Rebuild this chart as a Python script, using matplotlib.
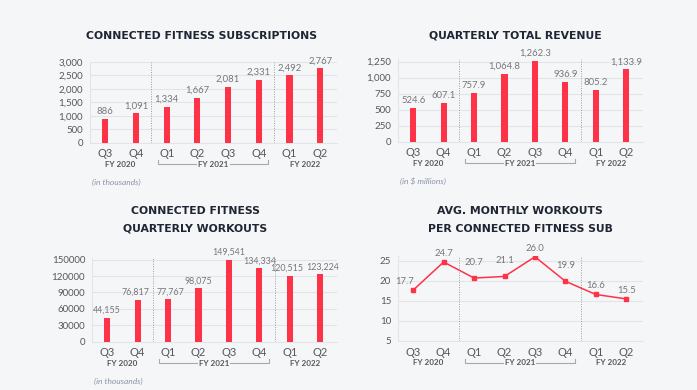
import matplotlib.pyplot as plt
from matplotlib.transforms import blended_transform_factory

plt.rcParams["font.family"] = ["Lato", "DejaVu Sans"]

quarters = ["Q3", "Q4", "Q1", "Q2", "Q3", "Q4", "Q1", "Q2"]

subscriptions = [886, 1091, 1334, 1667, 2081, 2331, 2492, 2767]
sub_labels = ["886", "1,091", "1,334", "1,667", "2,081", "2,331", "2,492", "2,767"]

revenue = [524.6, 607.1, 757.9, 1064.8, 1262.3, 936.9, 805.2, 1133.9]
rev_labels = ["524.6", "607.1", "757.9", "1,064.8", "1,262.3", "936.9", "805.2", "1,133.9"]

workouts = [44155, 76817, 77767, 98075, 149541, 134334, 120515, 123224]
wo_labels = ["44,155", "76,817", "77,767", "98,075", "149,541", "134,334", "120,515", "123,224"]

avg_workouts = [17.7, 24.7, 20.7, 21.1, 26.0, 19.9, 16.6, 15.5]
avg_labels = ["17.7", "24.7", "20.7", "21.1", "26.0", "19.9", "16.6", "15.5"]

BG = "#f5f6f8"
RED = "#ff3347"
GRID = "#e2e4e8"
TXT = "#58565a"
VAL = "#77777b"
TITLE = "#1f2533"

W, H = 697, 390
fig = plt.figure(figsize=(W / 100, H / 100), dpi=100, facecolor=BG)


def add_axes(left, top, right, bottom):
    return fig.add_axes([left / W, 1 - bottom / H, (right - left) / W, (bottom - top) / H])


def style(ax, yticks, yticklabels, ylim):
    ax.set_facecolor(BG)
    ax.set_xlim(-0.5, 7.55)
    ax.set_ylim(*ylim)
    ax.set_yticks(yticks)
    ax.set_yticklabels(yticklabels, fontsize=7, color=TXT)
    ax.set_xticks(range(8))
    ax.set_xticklabels(quarters, fontsize=8, color=TXT)
    ax.tick_params(length=0, pad=4)
    ax.tick_params(axis="y", pad=5)
    for s in ["top", "right"]:
        ax.spines[s].set_visible(False)
    for s in ["left", "bottom"]:
        ax.spines[s].set_color(GRID)
        ax.spines[s].set_linewidth(0.8)
    ax.grid(axis="y", color=GRID, linewidth=0.8)
    ax.set_axisbelow(True)
    for x in (1.5, 5.5):
        ax.axvline(x, color="#9a9ca2", linestyle=(0, (1, 1.5)), linewidth=0.7)

    # fiscal year labels under the quarters
    h_px = ax.get_position().height * H
    yfy = -21.5 / h_px
    tr = blended_transform_factory(ax.transData, ax.transAxes)
    fy_kw = dict(transform=tr, fontsize=5.8, fontweight="bold", color="#55575c",
                 ha="center", va="center", clip_on=False)
    ax.text(0.5, yfy, "FY 2020", **fy_kw)
    ax.text(3.5, yfy, "FY 2021", **fy_kw)
    ax.text(6.5, yfy, "FY 2022", **fy_kw)
    yup = yfy + 4 / h_px
    ln = dict(transform=tr, color="#a7a9ae", linewidth=0.8, clip_on=False)
    ax.plot([1.7, 1.7, 2.95], [yup, yfy, yfy], **ln)
    ax.plot([4.05, 5.3, 5.3], [yfy, yfy, yup], **ln)


def title(x, y, text):
    fig.text(x / W, 1 - y / H, text, fontsize=7.8, fontweight="bold", color=TITLE,
             family="DejaVu Sans", ha="center", va="center", linespacing=1.9)


def note(ax, text):
    h_px = ax.get_position().height * H
    ax.text(0.01, -39.5 / h_px, text, transform=ax.transAxes, fontsize=6,
            style="italic", color="#8a93a6", ha="left", va="center")


def bar_labels(ax, vals, labels, off, size=6.8, shifts=None):
    shifts = shifts or {}
    for i, (v, lab) in enumerate(zip(vals, labels)):
        ax.annotate(lab, (i, v), xytext=(shifts.get(i, 0), off), textcoords="offset points",
                    ha="center", va="bottom", fontsize=size, color=VAL)


# Connected fitness subscriptions
ax1 = add_axes(90, 61.7, 337, 142.7)
ax1.bar(range(8), subscriptions, width=0.2, color=RED, zorder=3)
style(ax1, [0, 500, 1000, 1500, 2000, 2500, 3000],
      ["0", "500", "1,000", "1,500", "2,000", "2,500", "3,000"], (0, 3000))
bar_labels(ax1, subscriptions, sub_labels, 2)
title(201, 36, "CONNECTED FITNESS SUBSCRIPTIONS")
note(ax1, "(in thousands)")

# Quarterly total revenue
ax2 = add_axes(398, 59.1, 643, 141.7)
ax2.bar(range(8), revenue, width=0.2, color=RED, zorder=3)
style(ax2, [0, 250, 500, 750, 1000, 1250],
      ["0", "250", "500", "750", "1,000", "1,250"], (0, 1290))
bar_labels(ax2, revenue, rev_labels, 2)
title(515, 36, "QUARTERLY TOTAL REVENUE")
note(ax2, "(in $ millions)")

# Connected fitness quarterly workouts
ax3 = add_axes(92, 258, 337, 341.7)
ax3.bar(range(8), workouts, width=0.2, color=RED, zorder=3)
style(ax3, [0, 30000, 60000, 90000, 120000, 150000],
      ["0", "30000", "60000", "90000", "120000", "150000"], (0, 153000))
bar_labels(ax3, workouts, wo_labels, 2, size=6.4,
           shifts={1: -1.5, 2: 1.5, 6: -2, 7: 2})
title(195, 220, "CONNECTED FITNESS\nQUARTERLY WORKOUTS")
note(ax3, "(in thousands)")

# Avg monthly workouts per connected fitness sub
ax4 = add_axes(398, 256, 643, 341)
ax4.plot(range(8), avg_workouts, color=RED, linewidth=1.1, marker="s",
         markersize=3.5, zorder=3)
style(ax4, [5, 10, 15, 20, 25], ["5", "10", "15", "20", "25"], (5, 26.2))
for i, (v, lab) in enumerate(zip(avg_workouts, avg_labels)):
    dx = -6 if i == 0 else 0
    dy = 8 if i in (2, 3, 5) else 3
    ax4.annotate(lab, (i, v), xytext=(dx, dy), textcoords="offset points",
                 ha="center", va="bottom", fontsize=6.8, color=VAL)
title(520, 220, "AVG. MONTHLY WORKOUTS\nPER CONNECTED FITNESS SUB")

fig.savefig("out.png", dpi=100, facecolor=BG)
